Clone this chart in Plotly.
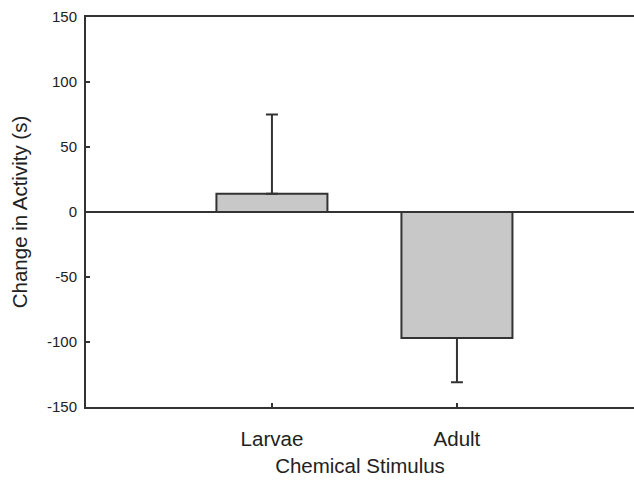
import plotly.graph_objects as go

categories = ["Larvae", "Adult"]
means = [14, -97]
err_plus = [61, 0]
err_minus = [0, 34]
y_ticks = [-150, -100, -50, 0, 50, 100, 150]
y_tick_text = ["-150", "-100", "-50", "0", "50", "100", "150"]

dark = "#333333"
font = "Liberation Sans, Arial, sans-serif"

fig = go.Figure()
fig.add_trace(go.Bar(
    x=[0, 1], y=means, width=0.6,
    marker=dict(color="#c8c8c8", line=dict(color=dark, width=2)),
    error_y=dict(type="data", symmetric=False, array=err_plus, arrayminus=err_minus,
                 color=dark, thickness=2, width=6),
    showlegend=False,
))

fig.update_layout(
    width=634, height=480,
    margin=dict(l=86, r=0, t=17, b=73),
    paper_bgcolor="white", plot_bgcolor="white",
    font=dict(family=font, color="#222222"),
    bargap=0.4,
)
fig.update_xaxes(
    range=[-1.005, 1.957], tickmode="array", tickvals=[0, 1], ticktext=categories,
    showline=True, linecolor=dark, linewidth=2, mirror=True,
    ticks="inside", ticklen=4, tickwidth=2, tickcolor=dark,
    showgrid=False, zeroline=False, ticklabelstandoff=12,
    tickfont=dict(size=20.5), title=dict(text="Chemical Stimulus", font=dict(size=20.5), standoff=10),
)
fig.update_yaxes(
    range=[-150, 150], tickmode="array", tickvals=y_ticks, ticktext=y_tick_text,
    showline=True, linecolor=dark, linewidth=2,
    ticks="inside", ticklen=4, tickwidth=2, tickcolor=dark,
    showgrid=False, zeroline=True, zerolinecolor=dark, zerolinewidth=2,
    ticklabelstandoff=4,
    tickfont=dict(size=15), title=dict(text="Change in Activity (s)", font=dict(size=20.5), standoff=14),
)

fig.write_html("out.html")
